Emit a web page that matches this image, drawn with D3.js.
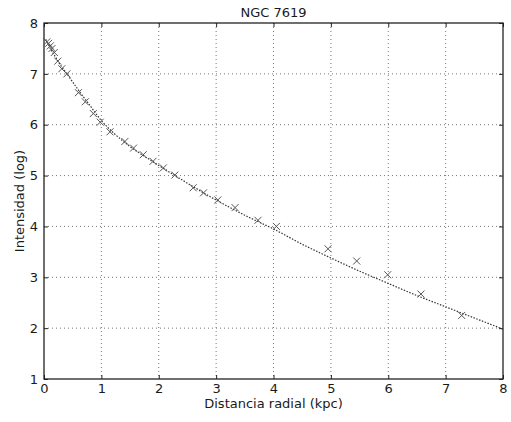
<!DOCTYPE html>
<html>
<head>
<meta charset="utf-8">
<script src="https://cdn.jsdelivr.net/npm/d3@7"></script>
<style>
    body { margin: 0; background: #fff; }
    text { font-family: "DejaVu Sans", sans-serif; fill: #1a1a1a; }
</style>
</head>
<body>
<div id="chart"></div>
<script>
var chartTitle = "NGC 7619";
var xLabel = "Distancia radial (kpc)";
var yLabel = "Intensidad (log)";

var xTicks = [0, 1, 2, 3, 4, 5, 6, 7, 8];
var yTicks = [1, 2, 3, 4, 5, 6, 7, 8];

// measured points (x markers)
var obsRadius = [0.05, 0.08, 0.11, 0.14, 0.18, 0.24, 0.31, 0.40, 0.60, 0.72, 0.86, 0.98,
    1.15, 1.41, 1.56, 1.73, 1.90, 2.08, 2.28, 2.60, 2.78, 3.03, 3.33, 3.73, 4.05,
    4.95, 5.45, 5.99, 6.57, 7.28];
var obsIntensity = [7.63, 7.60, 7.55, 7.50, 7.42, 7.25, 7.10, 7.00, 6.63, 6.45, 6.22, 6.05,
    5.86, 5.67, 5.54, 5.41, 5.28, 5.15, 5.01, 4.76, 4.66, 4.52, 4.37, 4.12, 4.00,
    3.56, 3.32, 3.05, 2.67, 2.25];

// fitted profile (dotted line)
var fitRadius = [0.03, 0.1, 0.2, 0.3, 0.4, 0.6, 0.8, 1.0, 1.25, 1.5, 1.75, 2.0, 2.5,
    3.0, 3.5, 4.0, 4.5, 5.0, 5.5, 6.0, 6.5, 7.0, 7.5, 8.0];
var fitIntensity = [7.68, 7.52, 7.33, 7.15, 7.0, 6.68, 6.38, 6.08, 5.8, 5.57, 5.38, 5.2, 4.85,
    4.52, 4.22, 3.95, 3.65, 3.38, 3.12, 2.88, 2.64, 2.42, 2.2, 1.98];

var margin = { top: 23, right: 8, bottom: 43, left: 44 };
var width = 511 - margin.left - margin.right,
    height = 422 - margin.top - margin.bottom;

var svg = d3.select("#chart").append("svg")
    .attr("width", 511)
    .attr("height", 422);

var g = svg.append("g")
    .attr("transform", "translate(" + margin.left + "," + margin.top + ")");

// Scales
var x = d3.scaleLinear().domain([0, 8]).range([0, width]);
var y = d3.scaleLinear().domain([1, 8]).range([height, 0]);

// Grid
g.selectAll(".vgrid")
    .data(xTicks.slice(1, -1))
    .enter().append("line")
    .attr("class", "vgrid")
    .attr("x1", function(d) { return x(d); })
    .attr("x2", function(d) { return x(d); })
    .attr("y1", 0)
    .attr("y2", height)
    .attr("stroke", "#777")
    .attr("stroke-width", 1)
    .attr("stroke-dasharray", "1,3");

g.selectAll(".hgrid")
    .data(yTicks.slice(1, -1))
    .enter().append("line")
    .attr("class", "hgrid")
    .attr("x1", 0)
    .attr("x2", width)
    .attr("y1", function(d) { return y(d); })
    .attr("y2", function(d) { return y(d); })
    .attr("stroke", "#777")
    .attr("stroke-width", 1)
    .attr("stroke-dasharray", "1,3");

// Axes (ticks pointing inward)
var fmt = d3.format("d");
var xAxis = d3.axisBottom(x).tickValues(xTicks).tickSize(-4).tickPadding(5).tickFormat(fmt);
var yAxis = d3.axisLeft(y).tickValues(yTicks).tickSize(-4).tickPadding(6).tickFormat(fmt);

var xg = g.append("g")
    .attr("transform", "translate(0," + height + ")")
    .call(xAxis);
var yg = g.append("g").call(yAxis);

g.append("g").call(d3.axisTop(x).tickValues(xTicks).tickSize(-4).tickFormat(""));
g.append("g").attr("transform", "translate(" + width + ",0)")
    .call(d3.axisRight(y).tickValues(yTicks).tickSize(-4).tickFormat(""));

g.selectAll(".domain").remove();
g.selectAll(".tick line").attr("stroke", "#222");
[xg, yg].forEach(function(a) {
    a.selectAll("text")
        .attr("font-size", 13)
        .attr("font-family", "DejaVu Sans")
        .attr("fill", "#1a1a1a");
});

// Frame
g.append("rect")
    .attr("width", width)
    .attr("height", height)
    .attr("fill", "none")
    .attr("stroke", "#222")
    .attr("stroke-width", 1.3);

// Fitted line
var fitData = fitRadius.map(function(d, i) { return [d, fitIntensity[i]]; });
var line = d3.line()
    .x(function(d) { return x(d[0]); })
    .y(function(d) { return y(d[1]); })
    .curve(d3.curveMonotoneX);

g.append("path")
    .datum(fitData)
    .attr("d", line)
    .attr("fill", "none")
    .attr("stroke", "#333")
    .attr("stroke-width", 1.2)
    .attr("stroke-dasharray", "1.5,1.5");

// Observed points as x markers
var obsData = obsRadius.map(function(d, i) { return { r: d, v: obsIntensity[i] }; });
var s = 3.5;
g.selectAll(".mark")
    .data(obsData)
    .enter().append("path")
    .attr("class", "mark")
    .attr("transform", function(d) { return "translate(" + x(d.r) + "," + y(d.v) + ")"; })
    .attr("d", "M" + (-s) + "," + (-s) + "L" + s + "," + s + "M" + (-s) + "," + s + "L" + s + "," + (-s))
    .attr("stroke", "#555")
    .attr("stroke-width", 1)
    .attr("fill", "none");

// Labels
svg.append("text")
    .attr("x", margin.left + width / 2)
    .attr("y", 17)
    .attr("text-anchor", "middle")
    .attr("font-size", 13)
    .text(chartTitle);

svg.append("text")
    .attr("x", margin.left + width / 2)
    .attr("y", 408)
    .attr("text-anchor", "middle")
    .attr("font-size", 13)
    .text(xLabel);

svg.append("text")
    .attr("transform", "translate(24," + (margin.top + height / 2) + ") rotate(-90)")
    .attr("text-anchor", "middle")
    .attr("font-size", 13)
    .text(yLabel);
</script>
</body>
</html>
